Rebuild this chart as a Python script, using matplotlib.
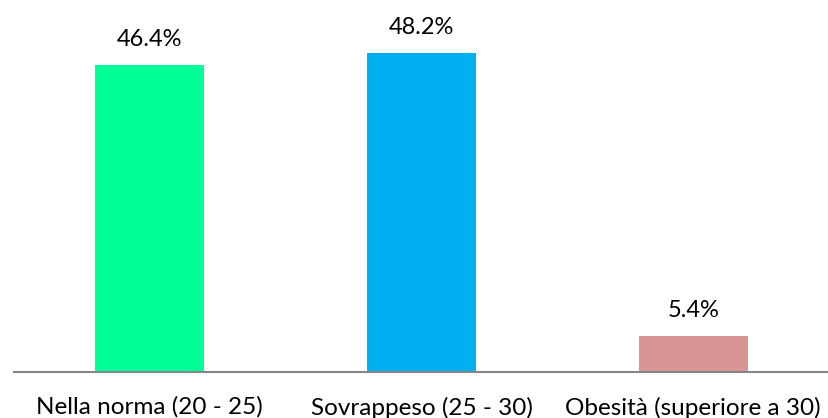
import matplotlib.pyplot as plt

categories = ['Nella norma (20 - 25)', 'Sovrappeso (25 - 30)', 'Obesità (superiore a 30)']
values = [46.4, 48.2, 5.4]
value_labels = ['46.4%', '48.2%', '5.4%']
colors = ['#00FF99', '#00B0F0', '#D99594']

plt.rcParams['font.family'] = ['Lato', 'DejaVu Sans']

fig = plt.figure(figsize=(8.29, 4.18), dpi=100)
ax = fig.add_axes([14 / 829, 46.5 / 418, 815 / 829, 371.5 / 418])

x = range(len(categories))
ax.bar(x, values, width=0.4, color=colors)
for xi, v, lab in zip(x, values, value_labels):
    ax.annotate(lab, (xi, v), xytext=(0, 11), textcoords='offset points',
                ha='center', va='bottom', fontsize=17, color='#000000')

ax.set_xlim(-0.5, 2.5)
ax.set_ylim(0, 56.3)
ax.set_xticks(list(x))
ax.set_xticklabels(categories, fontsize=17.5)
ax.tick_params(axis='x', length=0, pad=18)
ax.set_yticks([])
for side in ['top', 'right', 'left']:
    ax.spines[side].set_visible(False)
ax.spines['bottom'].set_color('#868686')
ax.spines['bottom'].set_linewidth(1.5)

fig.savefig('out.png', dpi=100)
